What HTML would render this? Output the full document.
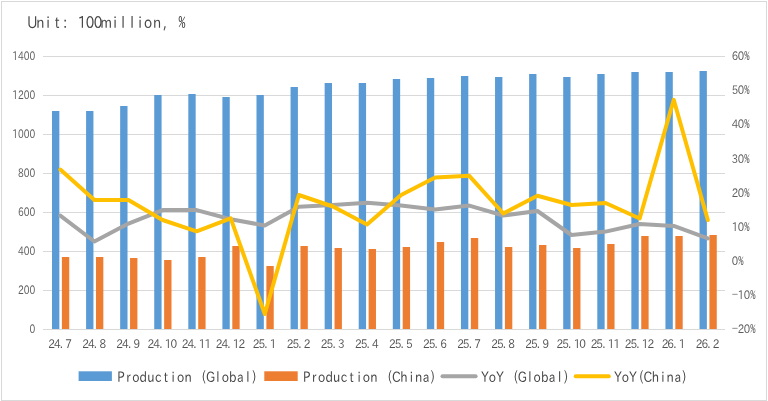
<!DOCTYPE html>
<html><head><meta charset="utf-8"><style>html,body{margin:0;padding:0;background:#fff;}svg{display:block;}</style></head>
<body>
<svg width="768" height="401" viewBox="0 0 768 401">
<rect x="0" y="0" width="768" height="401" fill="#fff"/>
<rect x="1.5" y="1.5" width="765" height="399" fill="none" stroke="#d9d9d9" stroke-width="1"/>
<line x1="43" y1="56.5" x2="725" y2="56.5" stroke="#d9d9d9" stroke-width="1"/>
<line x1="43" y1="95.5" x2="725" y2="95.5" stroke="#d9d9d9" stroke-width="1"/>
<line x1="43" y1="134.5" x2="725" y2="134.5" stroke="#d9d9d9" stroke-width="1"/>
<line x1="43" y1="173.5" x2="725" y2="173.5" stroke="#d9d9d9" stroke-width="1"/>
<line x1="43" y1="212.5" x2="725" y2="212.5" stroke="#d9d9d9" stroke-width="1"/>
<line x1="43" y1="251.5" x2="725" y2="251.5" stroke="#d9d9d9" stroke-width="1"/>
<line x1="43" y1="290.5" x2="725" y2="290.5" stroke="#d9d9d9" stroke-width="1"/>
<line x1="43" y1="329.5" x2="725" y2="329.5" stroke="#d9d9d9" stroke-width="1"/>
<rect x="52.00" y="111" width="7.35" height="218" fill="#5b9bd5"/>
<rect x="61.90" y="257" width="7.35" height="72" fill="#ed7d31"/>
<rect x="86.08" y="111" width="7.35" height="218" fill="#5b9bd5"/>
<rect x="95.98" y="257" width="7.35" height="72" fill="#ed7d31"/>
<rect x="120.16" y="106" width="7.35" height="223" fill="#5b9bd5"/>
<rect x="130.06" y="258" width="7.35" height="71" fill="#ed7d31"/>
<rect x="154.24" y="95" width="7.35" height="234" fill="#5b9bd5"/>
<rect x="164.14" y="260" width="7.35" height="69" fill="#ed7d31"/>
<rect x="188.32" y="94" width="7.35" height="235" fill="#5b9bd5"/>
<rect x="198.22" y="257" width="7.35" height="72" fill="#ed7d31"/>
<rect x="222.40" y="97" width="7.35" height="232" fill="#5b9bd5"/>
<rect x="232.30" y="246" width="7.35" height="83" fill="#ed7d31"/>
<rect x="256.48" y="95" width="7.35" height="234" fill="#5b9bd5"/>
<rect x="266.38" y="266" width="7.35" height="63" fill="#ed7d31"/>
<rect x="290.56" y="87" width="7.35" height="242" fill="#5b9bd5"/>
<rect x="300.46" y="246" width="7.35" height="83" fill="#ed7d31"/>
<rect x="324.64" y="83" width="7.35" height="246" fill="#5b9bd5"/>
<rect x="334.54" y="248" width="7.35" height="81" fill="#ed7d31"/>
<rect x="358.72" y="83" width="7.35" height="246" fill="#5b9bd5"/>
<rect x="368.62" y="249" width="7.35" height="80" fill="#ed7d31"/>
<rect x="392.80" y="79" width="7.35" height="250" fill="#5b9bd5"/>
<rect x="402.70" y="247" width="7.35" height="82" fill="#ed7d31"/>
<rect x="426.88" y="78" width="7.35" height="251" fill="#5b9bd5"/>
<rect x="436.78" y="242" width="7.35" height="87" fill="#ed7d31"/>
<rect x="460.96" y="76" width="7.35" height="253" fill="#5b9bd5"/>
<rect x="470.86" y="238" width="7.35" height="91" fill="#ed7d31"/>
<rect x="495.04" y="77" width="7.35" height="252" fill="#5b9bd5"/>
<rect x="504.94" y="247" width="7.35" height="82" fill="#ed7d31"/>
<rect x="529.12" y="74" width="7.35" height="255" fill="#5b9bd5"/>
<rect x="539.02" y="245" width="7.35" height="84" fill="#ed7d31"/>
<rect x="563.20" y="77" width="7.35" height="252" fill="#5b9bd5"/>
<rect x="573.10" y="248" width="7.35" height="81" fill="#ed7d31"/>
<rect x="597.28" y="74" width="7.35" height="255" fill="#5b9bd5"/>
<rect x="607.18" y="244" width="7.35" height="85" fill="#ed7d31"/>
<rect x="631.36" y="72" width="7.35" height="257" fill="#5b9bd5"/>
<rect x="641.26" y="236" width="7.35" height="93" fill="#ed7d31"/>
<rect x="665.44" y="72" width="7.35" height="257" fill="#5b9bd5"/>
<rect x="675.34" y="236" width="7.35" height="93" fill="#ed7d31"/>
<rect x="699.52" y="71" width="7.35" height="258" fill="#5b9bd5"/>
<rect x="709.42" y="235" width="7.35" height="94" fill="#ed7d31"/>
<polyline points="60.30,215.6 94.38,241.5 128.46,223.6 162.54,210.1 196.62,210.1 230.70,219.3 264.78,225.5 298.86,206.7 332.94,205 367.02,202.8 401.10,205.5 435.18,209.5 469.26,205.6 503.34,215.5 537.42,211 571.50,235 605.58,231.6 639.66,224 673.74,225.9 707.82,238.4" fill="none" stroke="#a5a5a5" stroke-width="4" stroke-linejoin="round" stroke-linecap="round"/>
<polyline points="60.30,169.5 94.38,200 128.46,200 162.54,220 196.62,231.3 230.70,218.4 264.78,314 298.86,195 332.94,206.5 367.02,224.5 401.10,195 435.18,177.5 469.26,175.8 503.34,213.5 537.42,195.8 571.50,205 605.58,203 639.66,218.5 673.74,99.8 707.82,220" fill="none" stroke="#ffc000" stroke-width="4" stroke-linejoin="round" stroke-linecap="round"/>
<g font-family="IPAPGothic, NanumGothic, Liberation Sans, sans-serif" font-size="11.8" fill="#5c5c5c">
<text x="35.2" y="60.20" text-anchor="end" textLength="23.00" lengthAdjust="spacingAndGlyphs">1400</text>
<text x="35.2" y="99.20" text-anchor="end" textLength="23.00" lengthAdjust="spacingAndGlyphs">1200</text>
<text x="35.2" y="138.20" text-anchor="end" textLength="23.00" lengthAdjust="spacingAndGlyphs">1000</text>
<text x="35.2" y="177.20" text-anchor="end" textLength="17.25" lengthAdjust="spacingAndGlyphs">800</text>
<text x="35.2" y="216.20" text-anchor="end" textLength="17.25" lengthAdjust="spacingAndGlyphs">600</text>
<text x="35.2" y="255.20" text-anchor="end" textLength="17.25" lengthAdjust="spacingAndGlyphs">400</text>
<text x="35.2" y="294.20" text-anchor="end" textLength="17.25" lengthAdjust="spacingAndGlyphs">200</text>
<text x="35.2" y="333.20" text-anchor="end" textLength="5.75" lengthAdjust="spacingAndGlyphs">0</text>
<text transform="scale(0.86 1)" text-anchor="middle" x="854.65 861.63 868.60" y="60.20">60<tspan font-family="Noto Sans Mono CJK SC, Liberation Mono, monospace" font-size="12.4">%</tspan></text>
<text transform="scale(0.86 1)" text-anchor="middle" x="854.65 861.63 868.60" y="94.33">50<tspan font-family="Noto Sans Mono CJK SC, Liberation Mono, monospace" font-size="12.4">%</tspan></text>
<text transform="scale(0.86 1)" text-anchor="middle" x="854.65 861.63 868.60" y="128.45">40<tspan font-family="Noto Sans Mono CJK SC, Liberation Mono, monospace" font-size="12.4">%</tspan></text>
<text transform="scale(0.86 1)" text-anchor="middle" x="854.65 861.63 868.60" y="162.57">30<tspan font-family="Noto Sans Mono CJK SC, Liberation Mono, monospace" font-size="12.4">%</tspan></text>
<text transform="scale(0.86 1)" text-anchor="middle" x="854.65 861.63 868.60" y="196.70">20<tspan font-family="Noto Sans Mono CJK SC, Liberation Mono, monospace" font-size="12.4">%</tspan></text>
<text transform="scale(0.86 1)" text-anchor="middle" x="854.65 861.63 868.60" y="230.82">10<tspan font-family="Noto Sans Mono CJK SC, Liberation Mono, monospace" font-size="12.4">%</tspan></text>
<text transform="scale(0.86 1)" text-anchor="middle" x="854.65 861.63" y="264.95">0<tspan font-family="Noto Sans Mono CJK SC, Liberation Mono, monospace" font-size="12.4">%</tspan></text>
<text transform="scale(0.86 1)" text-anchor="middle" x="854.65 861.63 868.60 875.58" y="299.07"><tspan dy="-0.7">−</tspan><tspan dy="0.7">10</tspan><tspan font-family="Noto Sans Mono CJK SC, Liberation Mono, monospace" font-size="12.4">%</tspan></text>
<text transform="scale(0.86 1)" text-anchor="middle" x="854.65 861.63 868.60 875.58" y="333.20"><tspan dy="-0.7">−</tspan><tspan dy="0.7">20</tspan><tspan font-family="Noto Sans Mono CJK SC, Liberation Mono, monospace" font-size="12.4">%</tspan></text>
</g>
<g font-family="IPAPGothic, NanumGothic, Liberation Sans, sans-serif" font-size="12" fill="#535353">
<text transform="translate(48.30 0) scale(0.88 1)" x="-0.10 6.38 13.30 19.33" y="347.9">24.7</text>
<text transform="translate(82.38 0) scale(0.88 1)" x="-0.10 6.38 13.30 19.33" y="347.9">24.8</text>
<text transform="translate(116.46 0) scale(0.88 1)" x="-0.10 6.38 13.30 19.33" y="347.9">24.9</text>
<text transform="translate(147.69 0) scale(0.88 1)" x="-0.10 6.38 13.30 19.33 25.81" y="347.9">24.10</text>
<text transform="translate(181.77 0) scale(0.88 1)" x="-0.10 6.38 13.30 19.33 25.81" y="347.9">24.11</text>
<text transform="translate(215.85 0) scale(0.88 1)" x="-0.10 6.38 13.30 19.33 25.81" y="347.9">24.12</text>
<text transform="translate(252.78 0) scale(0.88 1)" x="-0.10 6.38 13.30 19.33" y="347.9">25.1</text>
<text transform="translate(286.86 0) scale(0.88 1)" x="-0.10 6.38 13.30 19.33" y="347.9">25.2</text>
<text transform="translate(320.94 0) scale(0.88 1)" x="-0.10 6.38 13.30 19.33" y="347.9">25.3</text>
<text transform="translate(355.02 0) scale(0.88 1)" x="-0.10 6.38 13.30 19.33" y="347.9">25.4</text>
<text transform="translate(389.10 0) scale(0.88 1)" x="-0.10 6.38 13.30 19.33" y="347.9">25.5</text>
<text transform="translate(423.18 0) scale(0.88 1)" x="-0.10 6.38 13.30 19.33" y="347.9">25.6</text>
<text transform="translate(457.26 0) scale(0.88 1)" x="-0.10 6.38 13.30 19.33" y="347.9">25.7</text>
<text transform="translate(491.34 0) scale(0.88 1)" x="-0.10 6.38 13.30 19.33" y="347.9">25.8</text>
<text transform="translate(525.42 0) scale(0.88 1)" x="-0.10 6.38 13.30 19.33" y="347.9">25.9</text>
<text transform="translate(556.65 0) scale(0.88 1)" x="-0.10 6.38 13.30 19.33 25.81" y="347.9">25.10</text>
<text transform="translate(590.73 0) scale(0.88 1)" x="-0.10 6.38 13.30 19.33 25.81" y="347.9">25.11</text>
<text transform="translate(624.81 0) scale(0.88 1)" x="-0.10 6.38 13.30 19.33 25.81" y="347.9">25.12</text>
<text transform="translate(661.74 0) scale(0.88 1)" x="-0.10 6.38 13.30 19.33" y="347.9">26.1</text>
<text transform="translate(695.82 0) scale(0.88 1)" x="-0.10 6.38 13.30 19.33" y="347.9">26.2</text>
</g>
<text transform="scale(0.84 1)" x="38.45 47.98 57.26 67.86 77.50 87.38 97.74 107.20 116.73 126.31 137.02 146.43 157.38 166.67 176.31 187.14 196.43 206.67 216.55" y="27.6" text-anchor="middle" font-family="IPAPGothic, NanumGothic, Liberation Sans, sans-serif" font-size="16.2" fill="#474747" >Unit: 100million, <tspan font-family="Noto Sans Mono CJK SC, Liberation Mono, monospace" font-size="16.5">%</tspan></text>
<rect x="78.6" y="371.3" width="33.3" height="9.7" fill="#5b9bd5"/>
<text transform="scale(0.84 1)" x="144.05 152.93 161.81 170.69 179.57 188.45 197.33 206.21 215.10 223.98 232.86 242.69 250.62 259.50 268.38 277.26 286.14 295.02 302.71" y="381.6" text-anchor="middle" font-family="IPAPGothic, NanumGothic, Liberation Sans, sans-serif" font-size="14.4" fill="#474747" >Production <tspan dy="-0.80">(</tspan><tspan dy="0.80">G</tspan>lobal<tspan dy="-0.80">)</tspan></text>
<rect x="264.3" y="371.3" width="33.4" height="9.7" fill="#ed7d31"/>
<text transform="scale(0.84 1)" x="365.27 374.15 383.04 391.92 400.80 409.68 418.56 427.44 436.32 445.20 454.08 463.92 471.85 480.73 489.61 498.49 507.37 515.06" y="381.6" text-anchor="middle" font-family="IPAPGothic, NanumGothic, Liberation Sans, sans-serif" font-size="14.4" fill="#474747" >Production <tspan dy="-0.80">(</tspan><tspan dy="0.80">C</tspan>hina<tspan dy="-0.80">)</tspan></text>
<line x1="442.5" y1="376.2" x2="475.6" y2="376.2" stroke="#a5a5a5" stroke-width="4" stroke-linecap="round"/>
<text transform="scale(0.84 1)" x="577.42 586.30 595.18 604.06 613.89 621.82 630.70 639.58 648.46 657.35 666.23 673.92" y="381.6" text-anchor="middle" font-family="IPAPGothic, NanumGothic, Liberation Sans, sans-serif" font-size="14.4" fill="#474747" >YoY <tspan dy="-0.80">(</tspan><tspan dy="0.80">G</tspan>lobal<tspan dy="-0.80">)</tspan></text>
<line x1="575.7" y1="376.2" x2="608.8" y2="376.2" stroke="#ffc000" stroke-width="4" stroke-linecap="round"/>
<text transform="scale(0.84 1)" x="735.75 744.63 753.51 763.35 771.27 780.15 789.04 797.92 806.80 814.49" y="381.6" text-anchor="middle" font-family="IPAPGothic, NanumGothic, Liberation Sans, sans-serif" font-size="14.4" fill="#474747" >YoY<tspan dy="-0.80">(</tspan><tspan dy="0.80">C</tspan>hina<tspan dy="-0.80">)</tspan></text>
</svg>
</body></html>
